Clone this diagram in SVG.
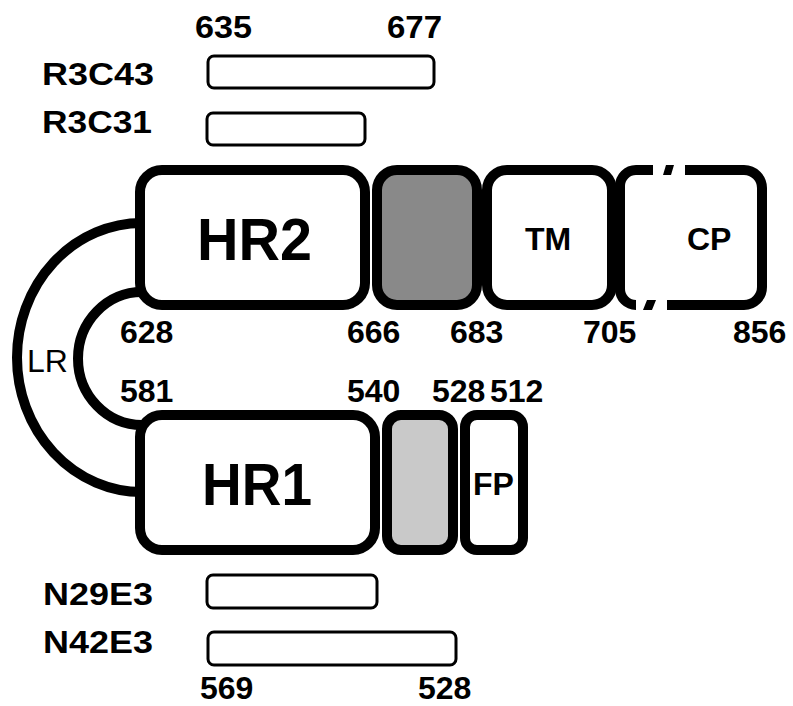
<svg xmlns="http://www.w3.org/2000/svg" width="793" height="706" viewBox="0 0 793 706">
<style>
.box{fill:#fff;stroke:#000;stroke-width:10}
.bar{fill:#fff;stroke:#000;stroke-width:3}
.arc{fill:none;stroke:#000;stroke-width:10}
text{font-family:"Liberation Sans",Arial,sans-serif;font-weight:bold;font-size:32px;fill:#000}
.big{font-size:60px}
.reg{font-weight:normal}
</style>
<rect width="793" height="706" fill="#fff"/>
<g id="connectors">
<path class="arc" d="M142,223 A125,134.5 0 0 0 142,492"/>
<path class="arc" d="M142,292 A64,66.5 0 0 0 142,425"/>
<text class="reg" x="27" y="372">LR</text>
</g>
<g id="R3C43">
<text x="42" y="85" textLength="112" lengthAdjust="spacingAndGlyphs">R3C43</text>
<rect class="bar" x="208" y="56" width="226" height="32" rx="6"/>
<text x="195" y="38" textLength="57" lengthAdjust="spacingAndGlyphs">635</text>
<text x="387" y="38" textLength="55" lengthAdjust="spacingAndGlyphs">677</text>
</g>
<g id="R3C31">
<text x="42" y="133" textLength="110" lengthAdjust="spacingAndGlyphs">R3C31</text>
<rect class="bar" x="207" y="113" width="158" height="32" rx="6"/>
</g>
<g id="HR2">
<rect class="box" x="140" y="170" width="225" height="135" rx="22"/>
<text class="big" x="197" y="260" textLength="115" lengthAdjust="spacingAndGlyphs">HR2</text>
<text x="120" y="343">628</text>
</g>
<g id="gray2">
<rect class="box" x="377" y="170" width="100" height="135" rx="20" style="fill:#898989"/>
<text x="347" y="343">666</text>
</g>
<g id="TM">
<rect class="box" x="487" y="170" width="125" height="135" rx="20"/>
<text x="525" y="250">TM</text>
<text x="450" y="343">683</text>
</g>
<g id="CP">
<path class="arc" d="M653,170 H636 A16,16 0 0 0 620,186 V289 A16,16 0 0 0 636,305"/>
<polygon points="666,165 674,165 671,175 663,175"/>
<polygon points="647,300 656,300 652,310 643,310"/>
<path class="arc" d="M685,170 H744 A18,18 0 0 1 762,188 V287 A18,18 0 0 1 744,305 H667"/>
<text x="687" y="250">CP</text>
<text x="583" y="343">705</text>
<text x="733" y="343">856</text>
</g>
<g id="HR1">
<rect class="box" x="140" y="415" width="235" height="135" rx="22"/>
<text class="big" x="202" y="505" textLength="110" lengthAdjust="spacingAndGlyphs">HR1</text>
<text x="120" y="402">581</text>
</g>
<g id="gray1">
<rect class="box" x="387" y="415" width="66" height="135" rx="14" style="fill:#c9c9c9"/>
<text x="347" y="402">540</text>
</g>
<g id="FP">
<rect class="box" x="465" y="415" width="58" height="135" rx="12"/>
<text x="473" y="495">FP</text>
<text x="432" y="402">528</text>
<text x="490" y="402">512</text>
</g>
<g id="N29E3">
<text x="43" y="605" textLength="110" lengthAdjust="spacingAndGlyphs">N29E3</text>
<rect class="bar" x="207" y="575" width="170" height="33" rx="6"/>
</g>
<g id="N42E3">
<text x="43" y="653" textLength="110" lengthAdjust="spacingAndGlyphs">N42E3</text>
<rect class="bar" x="208" y="632" width="248" height="33" rx="6"/>
<text x="200" y="699">569</text>
<text x="418" y="699">528</text>
</g>
</svg>
